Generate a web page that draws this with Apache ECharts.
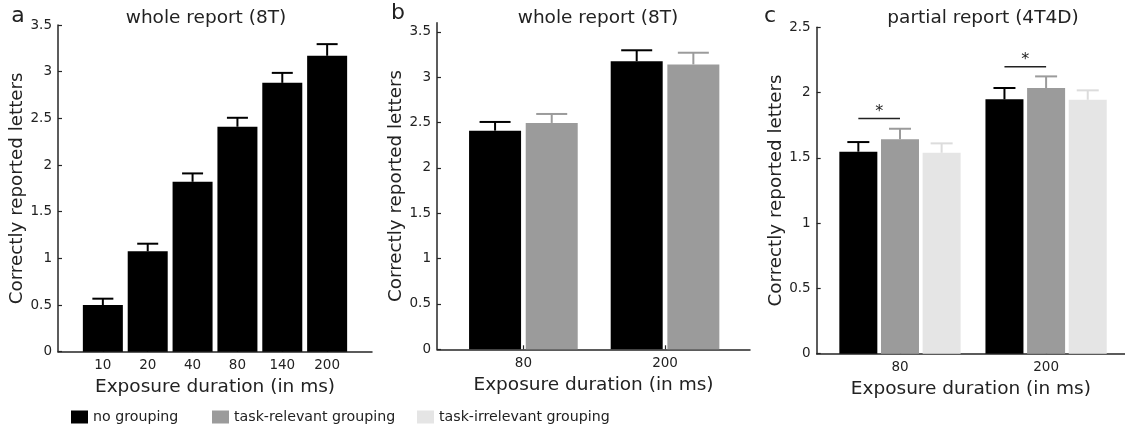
<!DOCTYPE html>
<html><head><meta charset="utf-8">
<script src="https://cdn.jsdelivr.net/npm/echarts@6/dist/echarts.min.js"></script>
<style>html,body{margin:0;padding:0;background:#fff}#c{width:1125px;height:427px}</style>
</head><body><div id="c"></div>
<script>
// ---- data ----
const catsA = ['10', '20', '40', '80', '140', '200'];
const noGroupA = [0.50, 1.075, 1.82, 2.41, 2.88, 3.17];
const noGroupErrA = [0.068, 0.082, 0.09, 0.096, 0.107, 0.125];

const catsB = ['80', '200'];
const noGroupB = [2.41, 3.175];
const noGroupErrB = [0.096, 0.121];
const relevantB = [2.495, 3.14];
const relevantErrB = [0.099, 0.129];

const catsC = ['80', '200'];
const noGroupC = [1.547, 1.948];
const noGroupErrC = [0.074, 0.087];
const relevantC = [1.642, 2.035];
const relevantErrC = [0.081, 0.089];
const irrelevantC = [1.539, 1.945];
const irrelevantErrC = [0.072, 0.072];
const sigLevelC = [1.802, 2.198];   // significance bracket height (no grouping vs task-relevant)

const ticksAC = [0, 0.5, 1, 1.5, 2, 2.5, 3, 3.5];
const ticksC = [0, 0.5, 1, 1.5, 2, 2.5];

const names = ['no grouping', 'task-relevant grouping', 'task-irrelevant grouping'];
const titles = ['whole report (8T)', 'whole report (8T)', 'partial report (4T4D)'];
const letters = ['a', 'b', 'c'];
const yName = 'Correctly reported letters';
const xName = 'Exposure duration (in ms)';

// ---- styling ----
const FONT = 'DejaVu Sans';
const TXT = '#222';
const AX = '#262626';
const colors = ['#000000', '#9b9b9b', '#e5e5e5'];
const errColors = ['#000000', '#9b9b9b', '#dcdcdc'];

function xAxisFor(idx, cats, min, max) {
  const vals = cats.map((c, i) => i + 1);
  return {
    type: 'value', gridIndex: idx, min: min, max: max,
    name: xName, nameLocation: 'middle', nameGap: 26,
    nameTextStyle: {fontFamily: FONT, fontSize: 18.5, color: TXT},
    axisLine: {show: true, lineStyle: {color: AX, width: 1.5}},
    axisTick: {show: true, inside: true, length: 4, customValues: vals, lineStyle: {color: AX, width: 1.2}},
    axisLabel: {customValues: vals, margin: 7, fontFamily: FONT, fontSize: 13.5, color: TXT,
      formatter: v => cats[Math.round(v) - 1] || ''},
    splitLine: {show: false}
  };
}
function yAxisFor(idx, max, ticks) {
  return {
    type: 'value', gridIndex: idx, min: 0, max: max,
    name: yName, nameLocation: 'middle', nameGap: 30,
    nameTextStyle: {fontFamily: FONT, fontSize: 18.3, color: TXT},
    axisLine: {show: true, lineStyle: {color: AX, width: 1.5}},
    axisTick: {show: true, inside: true, length: 4, customValues: ticks, lineStyle: {color: AX, width: 1.2}},
    axisLabel: {customValues: ticks, margin: 6, fontFamily: FONT, fontSize: 13.5, color: TXT,
      formatter: v => String(v)},
    splitLine: {show: false}
  };
}

const series = [];
function addGroup(axisIdx, means, errs, sIdx, offset, barPx, capPx) {
  const pts = means.map((m, i) => [i + 1 + offset, m]);
  series.push({
    type: 'bar', name: names[sIdx], xAxisIndex: axisIdx, yAxisIndex: axisIdx,
    data: pts, barWidth: barPx, barGap: '-100%',
    itemStyle: {color: colors[sIdx]}, silent: true, z: 2
  });
  series.push({
    type: 'custom', xAxisIndex: axisIdx, yAxisIndex: axisIdx, z: 3, silent: true, clip: false,
    data: means.map((m, i) => [i + 1 + offset, m, errs[i]]),
    encode: {x: 0, y: 1},
    renderItem: function (params, api) {
      const x = api.value(0), m = api.value(1), e = api.value(2);
      const p0 = api.coord([x, m]);
      const p1 = api.coord([x, m + e]);
      const st = {stroke: errColors[sIdx], lineWidth: 2};
      return {type: 'group', children: [
        {type: 'line', shape: {x1: p0[0], y1: p0[1], x2: p1[0], y2: p1[1]}, style: st},
        {type: 'line', shape: {x1: p1[0] - capPx / 2, y1: p1[1], x2: p1[0] + capPx / 2, y2: p1[1]}, style: st}
      ]};
    }
  });
}

// panel a
addGroup(0, noGroupA, noGroupErrA, 0, 0, 40, 21);
// panel b
const offB = [-0.2, 0.2];
addGroup(1, noGroupB, noGroupErrB, 0, offB[0], 52, 31);
addGroup(1, relevantB, relevantErrB, 1, offB[1], 52, 31);
// panel c
const offC = [-0.285, 0, 0.285];
addGroup(2, noGroupC, noGroupErrC, 0, offC[0], 38, 22);
addGroup(2, relevantC, relevantErrC, 1, offC[1], 38, 22);
addGroup(2, irrelevantC, irrelevantErrC, 2, offC[2], 38, 22);
// significance brackets in panel c
series.push({
  type: 'custom', xAxisIndex: 2, yAxisIndex: 2, z: 4, silent: true, clip: false,
  data: sigLevelC.map((y, i) => [i + 1 + offC[0], i + 1 + offC[1], y]),
  encode: {x: [0, 1], y: 2},
  renderItem: function (params, api) {
    const a = api.coord([api.value(0), api.value(2)]);
    const b = api.coord([api.value(1), api.value(2)]);
    return {type: 'group', children: [
      {type: 'line', shape: {x1: a[0], y1: a[1], x2: b[0], y2: b[1]}, style: {stroke: '#222', lineWidth: 1.6}},
      {type: 'text', x: (a[0] + b[0]) / 2, y: a[1] + 1,
        style: {text: '*', fontFamily: FONT, fontSize: 16, fill: '#222', align: 'center', verticalAlign: 'bottom'}}
    ]};
  }
});

const legendLefts = [66, 207, 412];
const legends = names.map((n, i) => ({
  data: [n], left: legendLefts[i], top: 405, orient: 'horizontal',
  icon: 'rect', itemWidth: 17, itemHeight: 13, selectedMode: false,
  textStyle: {fontFamily: FONT, fontSize: 14.2, color: TXT, padding: [0, 0, 0, 0]}
}));

const titleX = [206, 598, 983];
const letterX = [18, 398, 770];
const letterY = [16, 13, 16];
const graphics = [];
titles.forEach((t, i) => graphics.push({type: 'text', x: titleX[i], y: 18,
  style: {text: t, fontFamily: FONT, fontSize: 18.5, fill: TXT, align: 'center', verticalAlign: 'middle'}}));
letters.forEach((t, i) => graphics.push({type: 'text', x: letterX[i], y: letterY[i],
  style: {text: t, fontFamily: FONT, fontSize: 22, fill: TXT, align: 'center', verticalAlign: 'middle'}}));

const option = {
  animation: false,
  backgroundColor: '#fff',
  grid: [
    {left: 58, top: 25, width: 314, bottom: 75.3, outerBoundsMode: 'none'},
    {left: 437, top: 22.7, width: 313, bottom: 77.7, outerBoundsMode: 'none'},
    {left: 816.7, top: 27.3, right: 0, bottom: 73.3, outerBoundsMode: 'none'}
  ],
  xAxis: [xAxisFor(0, catsA, 0, 7), xAxisFor(1, catsB, 0.39, 2.6), xAxisFor(2, catsC, 0.43, 2.54)],
  yAxis: [yAxisFor(0, 3.5, ticksAC), yAxisFor(1, 3.6, ticksAC), yAxisFor(2, 2.5, ticksC)],
  legend: legends,
  graphic: graphics,
  series: series
};
const chart = echarts.init(document.getElementById('c'), null, {renderer: 'canvas'});
chart.setOption(option);
</script></body></html>
